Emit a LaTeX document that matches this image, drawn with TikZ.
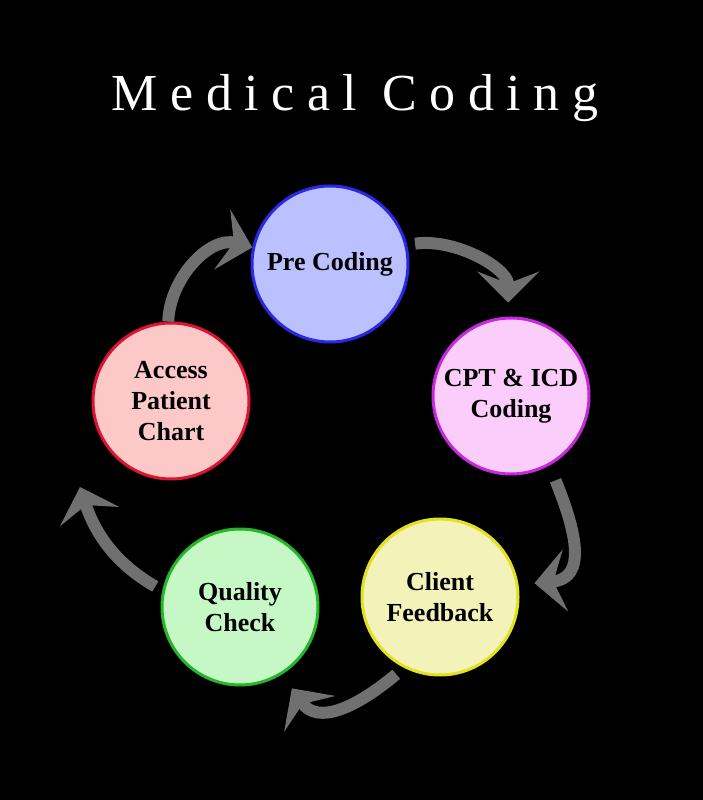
\documentclass[tikz,border=0pt]{standalone}
\usepackage{fontspec}
\setmainfont{Liberation Serif}
\newfontfamily\titlefont[LetterSpace=24]{Liberation Serif}
\usepackage{tikz}
\usetikzlibrary{shapes,arrows.meta}
\definecolor{pregreyblue}{RGB}{187, 192, 255}
\definecolor{preedge}{RGB}{40, 40, 230}
\definecolor{cptfill}{RGB}{250, 205, 250}
\definecolor{cptedge}{RGB}{200, 40, 220}
\definecolor{clientfill}{RGB}{242, 242, 185}
\definecolor{clientedge}{RGB}{225, 225, 30}
\definecolor{qualityfill}{RGB}{198, 248, 198}
\definecolor{qualityedge}{RGB}{40, 180, 40}
\definecolor{accessfill}{RGB}{252, 200, 200}
\definecolor{accessedge}{RGB}{220, 20, 50}
\definecolor{arrowgrey}{RGB}{112, 112, 112}
\tikzstyle{stage}=[circle,draw,line width=3pt,minimum size=156pt,inner sep=0pt,align=center,font=\fontsize{26}{31}\selectfont\bfseries]
\tikzstyle{flow}=[draw=arrowgrey,line width=12pt,-{Stealth[length=31pt,width=62pt,inset=12pt]}]

\begin{document}
\begin{tikzpicture}[x=1pt,y=1pt]

\fill[black] (0,0) rectangle (703,800);

\node[text=white,font=\titlefont\fontsize{52}{60}\selectfont] (title) at (355,702) {Medical Coding};

\node[stage,fill=pregreyblue,draw=preedge] (pre) at (330,536) {Pre Coding};
\node[stage,fill=cptfill,draw=cptedge] (cpt) at (511,404) {CPT \& ICD\\Coding};
\node[stage,fill=clientfill,draw=clientedge] (client) at (440,203) {Client\\Feedback};
\node[stage,fill=qualityfill,draw=qualityedge] (quality) at (240,193) {Quality\\Check};
\node[stage,fill=accessfill,draw=accessedge] (access) at (171,399) {Access\\Patient\\Chart};
\coordinate (accessin) at (80,313);

\draw[flow] (access.92) to[out=88,in=165] (pre.168);
\draw[flow,shorten <=8pt,shorten >=14pt] (pre.14) to[out=8,in=90] (cpt.92);
\draw[flow,shorten <=16pt,shorten >=16pt] (cpt.-61) to[out=-68,in=5,looseness=1.45] (client.9);
\draw[flow,shorten <=10pt,shorten >=17pt] (client.-117) to[out=-140,in=-55,looseness=1.3] (quality.-58);
\draw[flow,shorten <=8pt] (quality.168) to[out=150,in=-72] (accessin);

\end{tikzpicture}
\end{document}
